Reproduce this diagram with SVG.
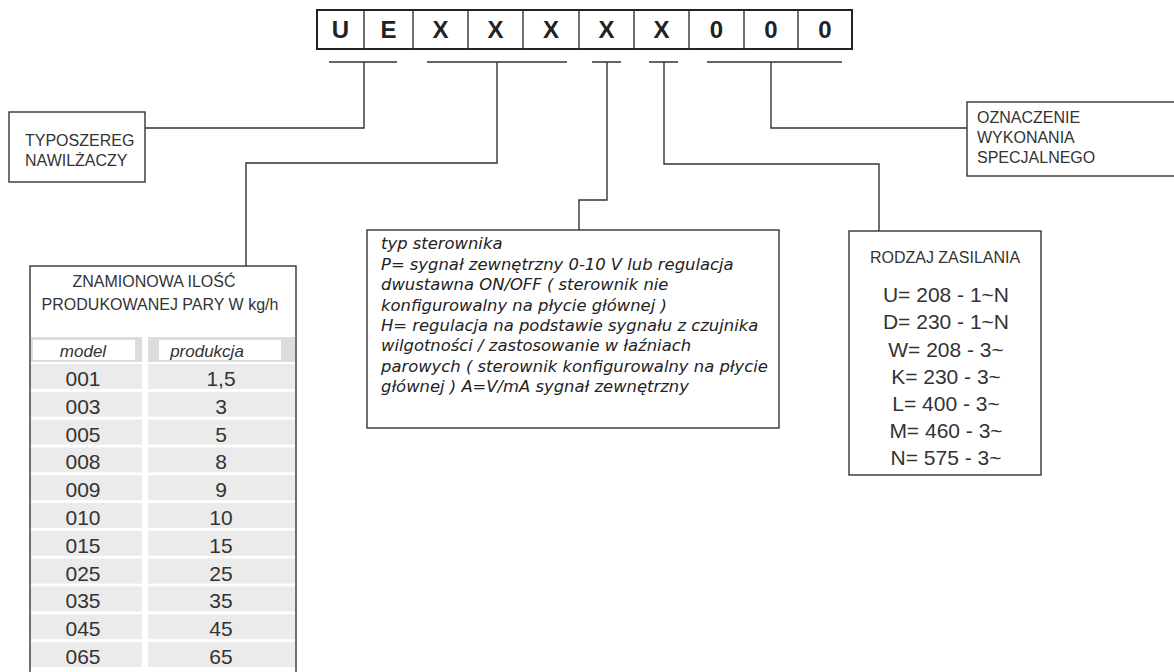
<svg xmlns="http://www.w3.org/2000/svg" width="1174" height="672" viewBox="0 0 1174 672">
<style>
.ln{fill:none;stroke:#333;stroke-width:1.4}
.bx{fill:#fff;stroke:#333;stroke-width:1.4}
.cell{fill:#fff;stroke:#222;stroke-width:2}
.code{font-family:"Liberation Sans",Arial,sans-serif;font-weight:bold;font-size:24px;fill:#222;text-anchor:middle}
.lbl{font-family:"Liberation Sans",Arial,sans-serif;font-size:16px;fill:#333}
.big{font-family:"Liberation Sans",Arial,sans-serif;font-size:21px;fill:#333;text-anchor:middle}
.it{font-family:"DejaVu Sans",sans-serif;font-style:italic;font-size:16.4px;fill:#222}
.hd{font-family:"Liberation Sans",Arial,sans-serif;font-style:italic;font-size:17px;fill:#333;text-anchor:middle}
.row{fill:#ebebeb}
.hrow{fill:#dcdcdc}
</style>
<rect width="1174" height="672" fill="#fff"/>
<g id="code">
<rect class="cell" x="317" y="10" width="535" height="39"/>
<path class="ln" stroke-width="1.6" d="M364 10V49M413 10V49M468 10V49M523 10V49M579 10V49M634 10V49M689 10V49M744 10V49M798 10V49"/>
<text class="code" x="340.5" y="38">U</text>
<text class="code" x="388.5" y="38">E</text>
<text class="code" x="440.5" y="38">X</text>
<text class="code" x="495.5" y="38">X</text>
<text class="code" x="551" y="38">X</text>
<text class="code" x="606.5" y="38">X</text>
<text class="code" x="661.5" y="38">X</text>
<text class="code" x="716.5" y="38">0</text>
<text class="code" x="771" y="38">0</text>
<text class="code" x="825" y="38">0</text>
</g>
<g id="connectors">
<path class="ln" d="M329 62H397M427 62H567M592 62H621M649 62H678M707 62H842"/>
<path class="ln" d="M364 62V128H145"/>
<path class="ln" d="M497 62V163H246V266"/>
<path class="ln" d="M607 62V200H579V230"/>
<path class="ln" d="M664 62V164H879V231"/>
<path class="ln" d="M771 62V128H967"/>
</g>
<g id="typoszereg">
<rect class="bx" x="9" y="112" width="136" height="70"/>
<text class="lbl" x="25" y="146">TYPOSZEREG</text>
<text class="lbl" x="25" y="166">NAWILŻACZY</text>
</g>
<g id="oznaczenie">
<rect class="bx" x="967" y="102" width="210" height="74"/>
<text class="lbl" x="977" y="123">OZNACZENIE</text>
<text class="lbl" x="977" y="143">WYKONANIA</text>
<text class="lbl" x="977" y="163">SPECJALNEGO</text>
</g>
<g id="sterownik">
<rect class="bx" x="367" y="230" width="412" height="198"/>
<text class="it" x="381" y="249">typ sterownika</text>
<text class="it" x="381" y="270">P= sygnał zewnętrzny 0-10 V lub regulacja</text>
<text class="it" x="381" y="290">dwustawna ON/OFF ( sterownik nie</text>
<text class="it" x="381" y="311">konfigurowalny na płycie głównej )</text>
<text class="it" x="381" y="331">H= regulacja na podstawie sygnału z czujnika</text>
<text class="it" x="381" y="351">wilgotności / zastosowanie w łaźniach</text>
<text class="it" x="381" y="372">parowych ( sterownik konfigurowalny na płycie</text>
<text class="it" x="381" y="392">głównej ) A=V/mA sygnał zewnętrzny</text>
</g>
<g id="zasilanie">
<rect class="bx" x="849" y="231" width="192" height="244"/>
<text class="lbl" x="945" y="263" font-size="17" text-anchor="middle">RODZAJ ZASILANIA</text>
<text class="big" x="946" y="302">U= 208 - 1~N</text>
<text class="big" x="946" y="329">D= 230 - 1~N</text>
<text class="big" x="946" y="357">W= 208 - 3~</text>
<text class="big" x="946" y="384">K= 230 - 3~</text>
<text class="big" x="946" y="411">L= 400 - 3~</text>
<text class="big" x="946" y="438">M= 460 - 3~</text>
<text class="big" x="946" y="465">N= 575 - 3~</text>
</g>
<g id="tabela">
<rect class="bx" x="30" y="266" width="266" height="420"/>
<text class="lbl" x="154" y="287" text-anchor="middle">ZNAMIONOWA ILOŚĆ</text>
<text class="lbl" x="160" y="310" font-size="16.5" text-anchor="middle">PRODUKOWANEJ PARY W kg/h</text>
<rect class="hrow" x="31" y="337" width="111" height="25"/>
<rect class="hrow" x="148" y="337" width="147" height="25"/>
<rect fill="#fff" x="33" y="340" width="102" height="20"/>
<rect fill="#fff" x="159" y="340" width="122" height="20"/>
<text class="hd" x="83" y="357">model</text>
<text class="hd" x="207" y="357">produkcja</text>
<g id="rows">
<rect class="row" x="31" y="364" width="111" height="25"/><rect class="row" x="148" y="364" width="147" height="25"/>
<rect class="row" x="31" y="391.8" width="111" height="25"/><rect class="row" x="148" y="391.8" width="147" height="25"/>
<rect class="row" x="31" y="419.6" width="111" height="25"/><rect class="row" x="148" y="419.6" width="147" height="25"/>
<rect class="row" x="31" y="447.4" width="111" height="25"/><rect class="row" x="148" y="447.4" width="147" height="25"/>
<rect class="row" x="31" y="475.2" width="111" height="25"/><rect class="row" x="148" y="475.2" width="147" height="25"/>
<rect class="row" x="31" y="503" width="111" height="25"/><rect class="row" x="148" y="503" width="147" height="25"/>
<rect class="row" x="31" y="530.8" width="111" height="25"/><rect class="row" x="148" y="530.8" width="147" height="25"/>
<rect class="row" x="31" y="558.6" width="111" height="25"/><rect class="row" x="148" y="558.6" width="147" height="25"/>
<rect class="row" x="31" y="586.4" width="111" height="25"/><rect class="row" x="148" y="586.4" width="147" height="25"/>
<rect class="row" x="31" y="614.2" width="111" height="25"/><rect class="row" x="148" y="614.2" width="147" height="25"/>
<rect class="row" x="31" y="642" width="111" height="25"/><rect class="row" x="148" y="642" width="147" height="25"/>
</g>
<text class="big" x="83" y="386">001</text><text class="big" x="221" y="386">1,5</text>
<text class="big" x="83" y="413.8">003</text><text class="big" x="221" y="413.8">3</text>
<text class="big" x="83" y="441.6">005</text><text class="big" x="221" y="441.6">5</text>
<text class="big" x="83" y="469.4">008</text><text class="big" x="221" y="469.4">8</text>
<text class="big" x="83" y="497.2">009</text><text class="big" x="221" y="497.2">9</text>
<text class="big" x="83" y="525">010</text><text class="big" x="221" y="525">10</text>
<text class="big" x="83" y="552.8">015</text><text class="big" x="221" y="552.8">15</text>
<text class="big" x="83" y="580.6">025</text><text class="big" x="221" y="580.6">25</text>
<text class="big" x="83" y="608.4">035</text><text class="big" x="221" y="608.4">35</text>
<text class="big" x="83" y="636.2">045</text><text class="big" x="221" y="636.2">45</text>
<text class="big" x="83" y="664">065</text><text class="big" x="221" y="664">65</text>
</g>
</svg>
